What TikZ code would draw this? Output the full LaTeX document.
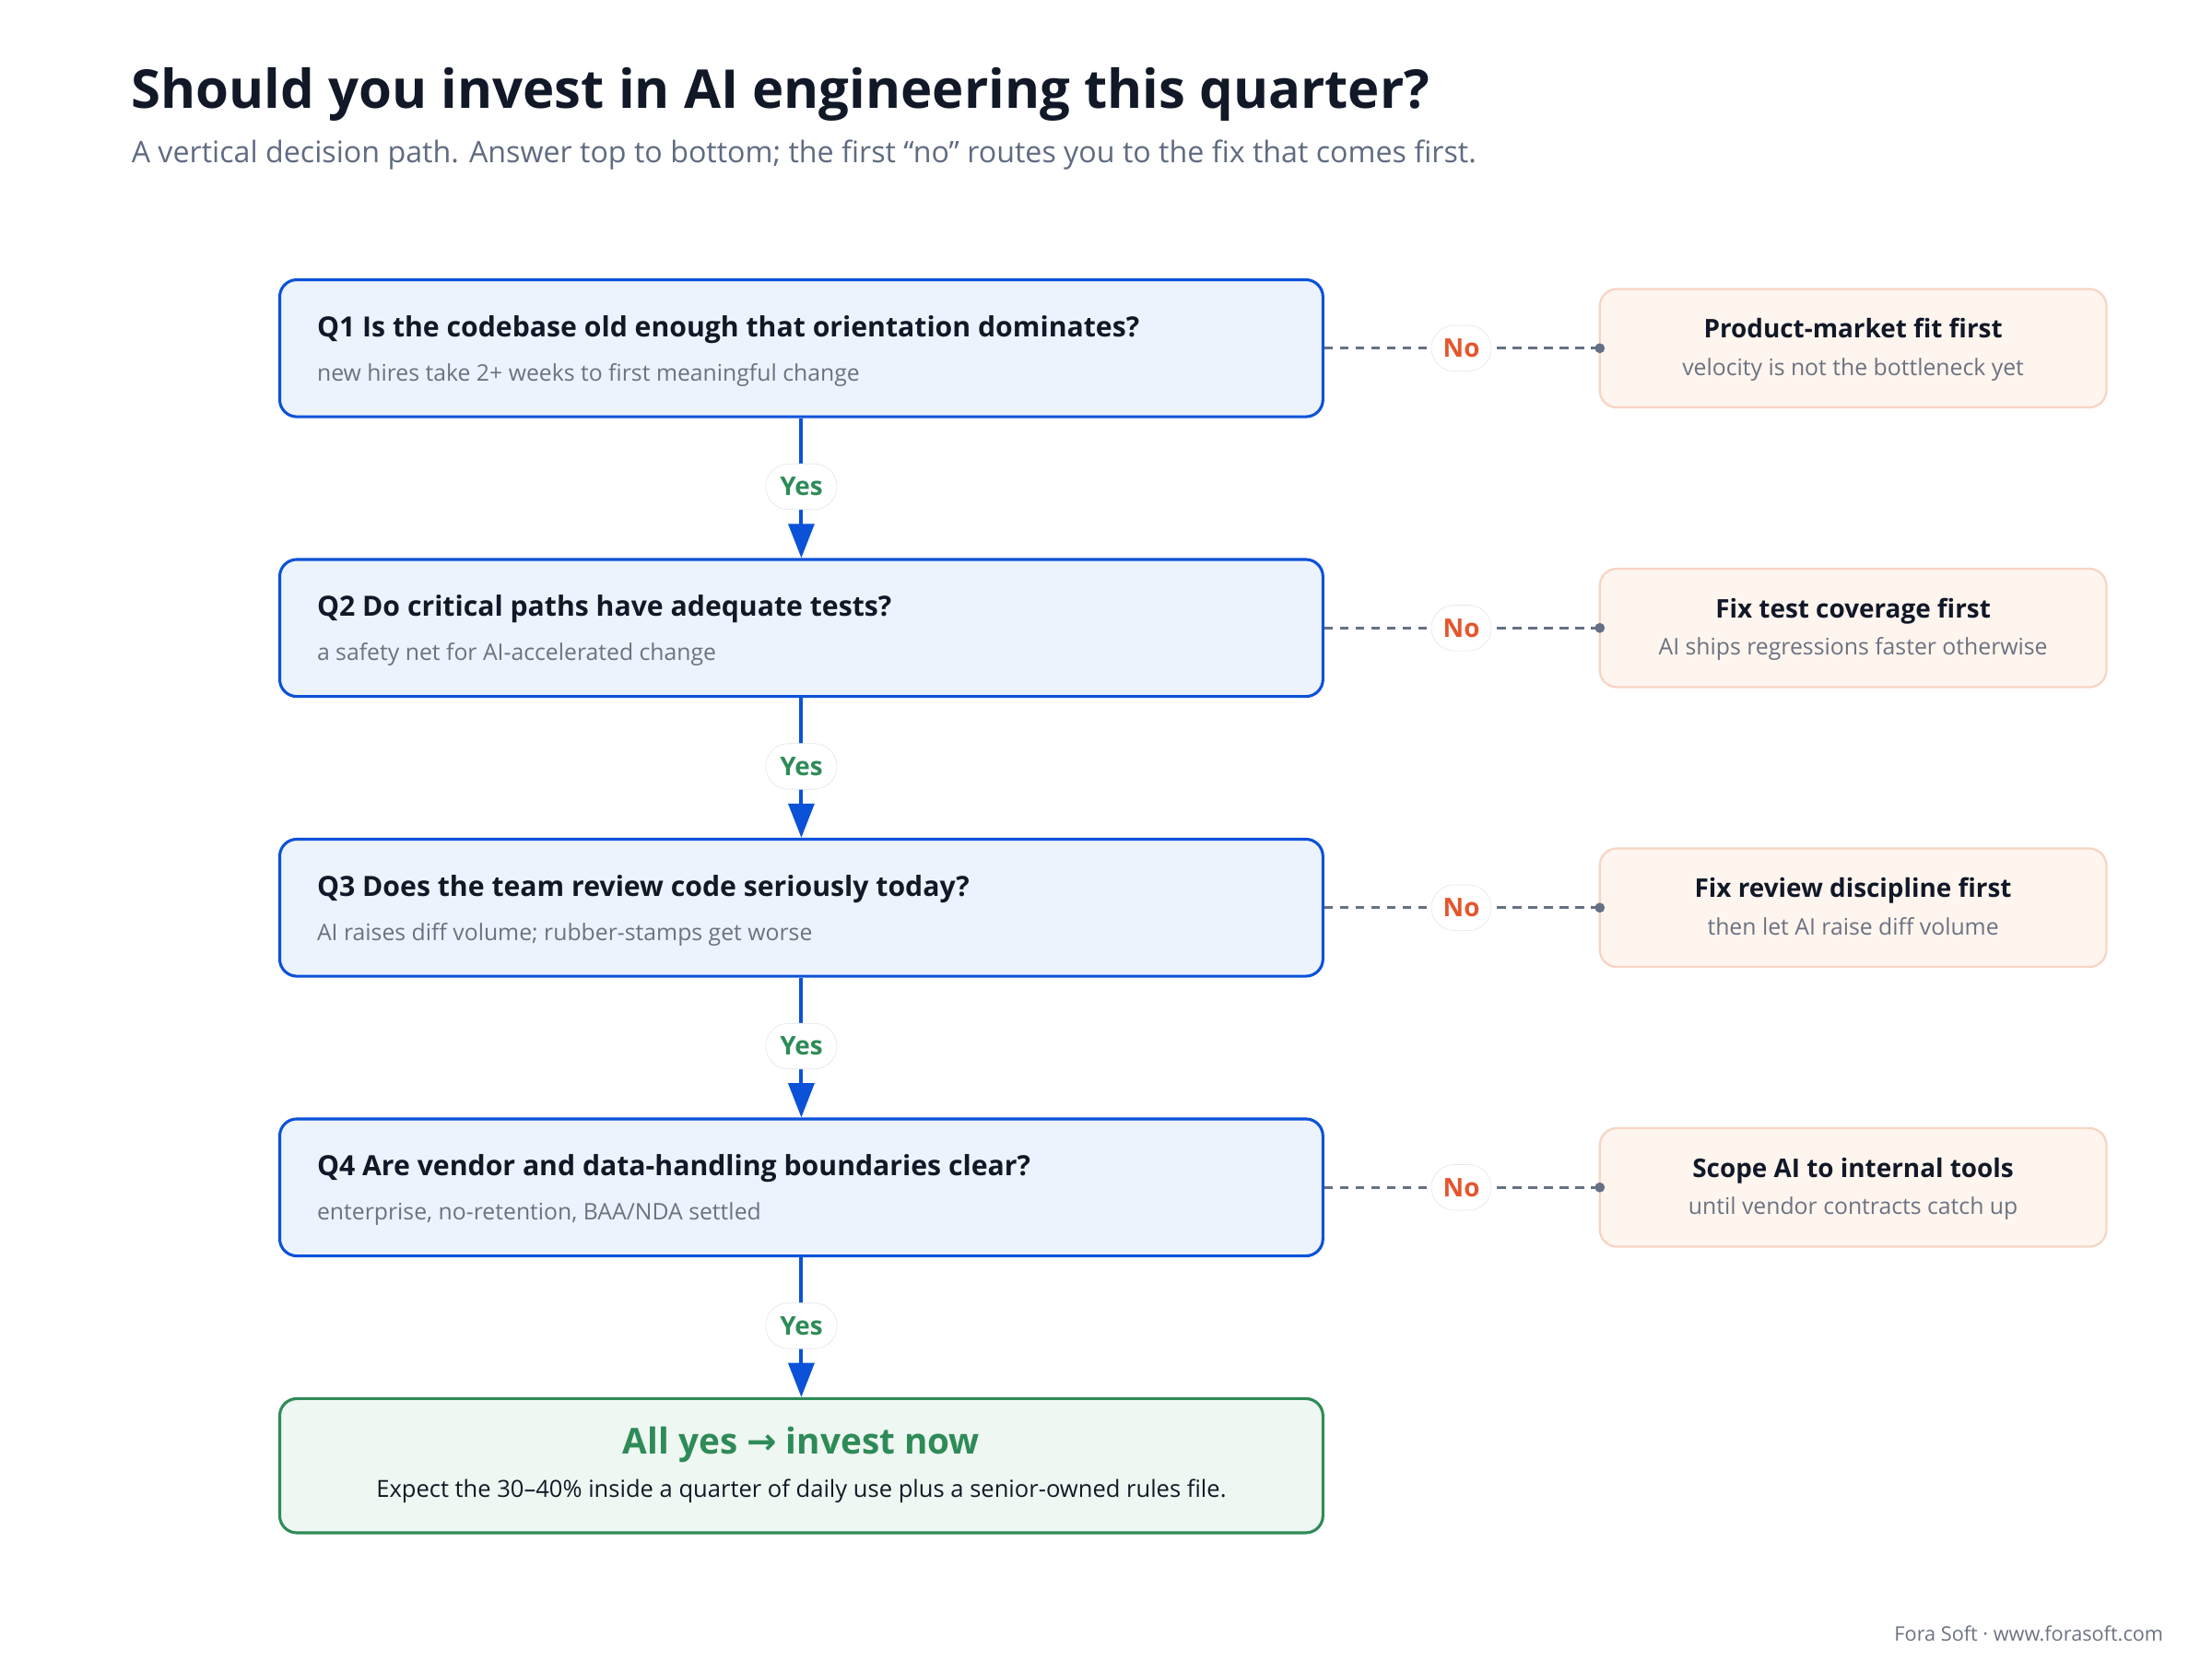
\documentclass[tikz,border=0pt]{standalone}
\usepackage{fontspec}
\setmainfont{Open Sans}
\newfontfamily\dejavu{DejaVu Sans}
\usetikzlibrary{arrows.meta}
\definecolor{qblue}{HTML}{0B52D8}
\definecolor{qfill}{HTML}{EDF3FD}
\definecolor{ink}{HTML}{111827}
\definecolor{muted}{HTML}{6B7280}
\definecolor{sub}{HTML}{5F6B80}
\definecolor{ygreen}{HTML}{2E8B57}
\definecolor{gfill}{HTML}{EEF7F1}
\definecolor{norange}{HTML}{E4572E}
\definecolor{ofill}{HTML}{FFF5EF}
\definecolor{oline}{HTML}{F7D5C2}
\definecolor{dashgray}{HTML}{667085}
\definecolor{pill}{HTML}{E3E6EA}
\begin{document}
\begin{tikzpicture}[x=1pt,y=-1pt,
 qbox/.style={draw=qblue,line width=2pt,fill=qfill,rounded corners=12pt,minimum width=731pt,minimum height=96pt},
 fbox/.style={draw=oline,line width=1.5pt,fill=ofill,rounded corners=12pt,minimum width=355pt,minimum height=83pt},
 qt/.style={anchor=base west,text=ink,font=\fontsize{19.5}{24}\selectfont\bfseries},
 qs/.style={anchor=base west,text=muted,font=\fontsize{16}{19}\selectfont},
 ft/.style={anchor=base,text=ink,font=\fontsize{18}{22}\selectfont\bfseries},
 fs/.style={anchor=base,text=muted,font=\fontsize{16}{19}\selectfont},
 yes/.style={draw=pill,fill=white,rounded corners=16pt,minimum width=50pt,minimum height=32pt,text=ygreen,font=\fontsize{18}{20}\selectfont\bfseries,inner sep=0pt},
 no/.style={draw=pill,fill=white,rounded corners=16pt,minimum width=42pt,minimum height=32pt,text=norange,font=\fontsize{18}{20}\selectfont\bfseries,inner sep=0pt},
 yarr/.style={draw=qblue,line width=2.5pt,-{Triangle[length=24pt,width=18pt]}},
 narr/.style={draw=dashgray,line width=2pt,dash pattern=on 6pt off 5pt}]
\useasboundingbox (0,0) rectangle (1550,1162.5);
\node[anchor=base west,text=ink,font=\fontsize{37.5}{44}\selectfont\bfseries,inner sep=0] (title) at (92,76) {Should you invest in AI engineering this quarter?};
\node[anchor=base west,text=sub,font=\fontsize{20.8}{24}\selectfont,inner sep=0] (subt) at (92,114) {A vertical decision path. Answer top to bottom; the first “no” routes you to the fix that comes first.};
\foreach \i/\y/\t/\s/\ft/\fs in {
 1/244/{Q1 Is the codebase old enough that orientation dominates?}/{new hires take 2+ weeks to first meaningful change}/{Product-market fit first}/{velocity is not the bottleneck yet},
 2/440/{Q2 Do critical paths have adequate tests?}/{a safety net for AI-accelerated change}/{Fix test coverage first}/{AI ships regressions faster otherwise},
 3/636/{Q3 Does the team review code seriously today?}/{AI raises diff volume; rubber-stamps get worse}/{Fix review discipline first}/{then let AI raise diff volume},
 4/832/{Q4 Are vendor and data-handling boundaries clear?}/{enterprise, no-retention, BAA/NDA settled}/{Scope AI to internal tools}/{until vendor contracts catch up}}{
 \node[qbox] (q\i) at (561.5,\y) {};
 \node[qt,inner sep=0] (q\i t) at (222,\y-8) {\t};
 \node[qs,inner sep=0] (q\i s) at (222,\y+23) {\s};
 \node[fbox] (f\i) at (1298.5,\y) {};
 \node[ft,inner sep=0] (f\i t) at (1298.5,\y-7) {\ft};
 \node[fs,inner sep=0] (f\i s) at (1298.5,\y+19) {\fs};
 \coordinate (d\i) at (1121,\y);
 \draw[narr] (q\i.east) -- (d\i);
 \fill[dashgray] (d\i) circle (3.5pt);
 \node[no] (n\i) at (1024,\y) {No};
}
\node[draw=ygreen,line width=2pt,fill=gfill,rounded corners=12pt,minimum width=731pt,minimum height=94pt] (fin) at (561.5,1027) {};
\node[anchor=base,text=ygreen,font=\fontsize{25}{30}\selectfont\bfseries,inner sep=0] (fint) at (561.5,1019) {All yes {\dejavu\bfseries →} invest now};
\node[anchor=base,text=ink,font=\fontsize{16.5}{19}\selectfont,inner sep=0] (fins) at (561.5,1049) {Expect the 30–40\% inside a quarter of daily use plus a senior-owned rules file.};
\draw[yarr] (q1.south) -- (q2.north);
\draw[yarr] (q2.south) -- (q3.north);
\draw[yarr] (q3.south) -- (q4.north);
\draw[yarr] (q4.south) -- (fin.north);
\node[yes] (y1) at (561.5,341) {Yes};
\node[yes] (y2) at (561.5,537) {Yes};
\node[yes] (y3) at (561.5,733) {Yes};
\node[yes] (y4) at (561.5,929) {Yes};
\node[anchor=base east,text=muted,font=\fontsize{14}{16}\selectfont,inner sep=0] (foot) at (1516,1150) {Fora Soft · www.forasoft.com};
\end{tikzpicture}
\end{document}
